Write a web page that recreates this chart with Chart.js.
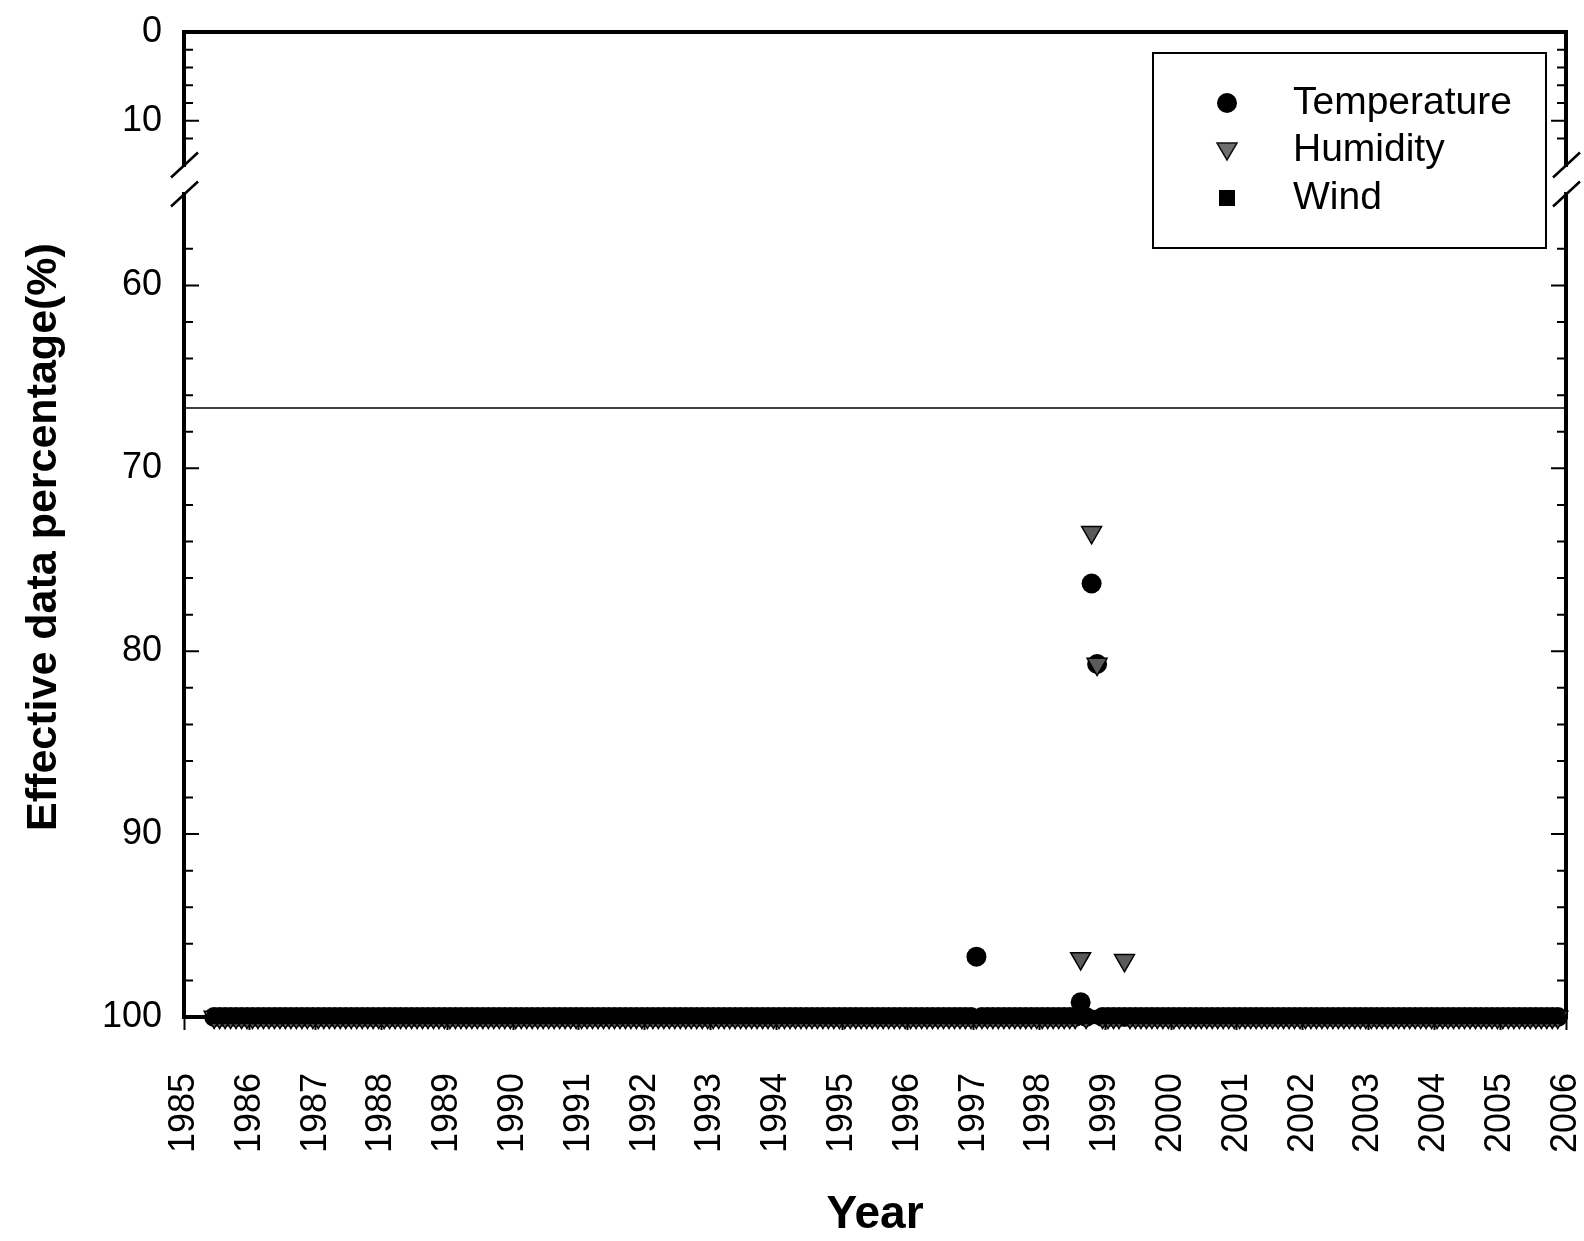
<!DOCTYPE html>
<html>
<head>
<meta charset="utf-8">
<title>Effective data percentage</title>
<script src="https://cdn.jsdelivr.net/npm/chart.js@4.4.1/dist/chart.umd.min.js"></script>
<style>
  html, body { margin: 0; padding: 0; background: #fff; }
  #contenedor { width: 1584px; height: 1241px; }
</style>
</head>
<body>
<div id="contenedor"><canvas id="graficoDatos"></canvas></div>
<script>
// Datos mensuales (una fila por año, 12 meses; null = sin dato)
const years = [1985, 1986, 1987, 1988, 1989, 1990, 1991, 1992, 1993, 1994, 1995,
               1996, 1997, 1998, 1999, 2000, 2001, 2002, 2003, 2004, 2005];

const temperatureRows = [
    [null, null, null, null, null, 100, 100, 100, 100, 100, 100, 100],
    [100, 100, 100, 100, 100, 100, 100, 100, 100, 100, 100, 100],
    [100, 100, 100, 100, 100, 100, 100, 100, 100, 100, 100, 100],
    [100, 100, 100, 100, 100, 100, 100, 100, 100, 100, 100, 100],
    [100, 100, 100, 100, 100, 100, 100, 100, 100, 100, 100, 100],
    [100, 100, 100, 100, 100, 100, 100, 100, 100, 100, 100, 100],
    [100, 100, 100, 100, 100, 100, 100, 100, 100, 100, 100, 100],
    [100, 100, 100, 100, 100, 100, 100, 100, 100, 100, 100, 100],
    [100, 100, 100, 100, 100, 100, 100, 100, 100, 100, 100, 100],
    [100, 100, 100, 100, 100, 100, 100, 100, 100, 100, 100, 100],
    [100, 100, 100, 100, 100, 100, 100, 100, 100, 100, 100, 100],
    [100, 100, 100, 100, 100, 100, 100, 100, 100, 100, 100, 100],
    [96.7, 100, 100, 100, 100, 100, 100, 100, 100, 100, 100, 100],
    [100, 100, 100, 100, 100, 100, 100, 99.2, 100, 76.3, 80.7, 100],
    [100, 100, 100, 100, 100, 100, 100, 100, 100, 100, 100, 100],
    [100, 100, 100, 100, 100, 100, 100, 100, 100, 100, 100, 100],
    [100, 100, 100, 100, 100, 100, 100, 100, 100, 100, 100, 100],
    [100, 100, 100, 100, 100, 100, 100, 100, 100, 100, 100, 100],
    [100, 100, 100, 100, 100, 100, 100, 100, 100, 100, 100, 100],
    [100, 100, 100, 100, 100, 100, 100, 100, 100, 100, 100, 100],
    [100, 100, 100, 100, 100, 100, 100, 100, 100, 100, 100, null]
];

const humidityRows = [
    [null, null, null, null, null, 100, 100, 100, 100, 100, 100, 100],
    [100, 100, 100, 100, 100, 100, 100, 100, 100, 100, 100, 100],
    [100, 100, 100, 100, 100, 100, 100, 100, 100, 100, 100, 100],
    [100, 100, 100, 100, 100, 100, 100, 100, 100, 100, 100, 100],
    [100, 100, 100, 100, 100, 100, 100, 100, 100, 100, 100, 100],
    [100, 100, 100, 100, 100, 100, 100, 100, 100, 100, 100, 100],
    [100, 100, 100, 100, 100, 100, 100, 100, 100, 100, 100, 100],
    [100, 100, 100, 100, 100, 100, 100, 100, 100, 100, 100, 100],
    [100, 100, 100, 100, 100, 100, 100, 100, 100, 100, 100, 100],
    [100, 100, 100, 100, 100, 100, 100, 100, 100, 100, 100, 100],
    [100, 100, 100, 100, 100, 100, 100, 100, 100, 100, 100, 100],
    [100, 100, 100, 100, 100, 100, 100, 100, 100, 100, 100, 100],
    [100, 100, 100, 100, 100, 100, 100, 100, 100, 100, 100, 100],
    [100, 100, 100, 100, 100, 100, 100, 96.8, 100, 73.5, 80.7, 100],
    [100, 100, 100, 96.9, 100, 100, 100, 100, 100, 100, 100, 100],
    [100, 100, 100, 100, 100, 100, 100, 100, 100, 100, 100, 100],
    [100, 100, 100, 100, 100, 100, 100, 100, 100, 100, 100, 100],
    [100, 100, 100, 100, 100, 100, 100, 100, 100, 100, 100, 100],
    [100, 100, 100, 100, 100, 100, 100, 100, 100, 100, 100, 100],
    [100, 100, 100, 100, 100, 100, 100, 100, 100, 100, 100, 100],
    [100, 100, 100, 100, 100, 100, 100, 100, 100, 100, 100, null]
];

const windRows = [
    [null, null, null, null, null, 100, 100, 100, 100, 100, 100, 100],
    [100, 100, 100, 100, 100, 100, 100, 100, 100, 100, 100, 100],
    [100, 100, 100, 100, 100, 100, 100, 100, 100, 100, 100, 100],
    [100, 100, 100, 100, 100, 100, 100, 100, 100, 100, 100, 100],
    [100, 100, 100, 100, 100, 100, 100, 100, 100, 100, 100, 100],
    [100, 100, 100, 100, 100, 100, 100, 100, 100, 100, 100, 100],
    [100, 100, 100, 100, 100, 100, 100, 100, 100, 100, 100, 100],
    [100, 100, 100, 100, 100, 100, 100, 100, 100, 100, 100, 100],
    [100, 100, 100, 100, 100, 100, 100, 100, 100, 100, 100, 100],
    [100, 100, 100, 100, 100, 100, 100, 100, 100, 100, 100, 100],
    [100, 100, 100, 100, 100, 100, 100, 100, 100, 100, 100, 100],
    [100, 100, 100, 100, 100, 100, 100, 100, 100, 100, 100, 100],
    [100, 100, 100, 100, 100, 100, 100, 100, 100, 100, 100, 100],
    [100, 100, 100, 100, 100, 100, 100, 100, 100, 100, 100, 100],
    [100, 100, 100, 100, 100, 100, 100, 100, 100, 100, 100, 100],
    [100, 100, 100, 100, 100, 100, 100, 100, 100, 100, 100, 100],
    [100, 100, 100, 100, 100, 100, 100, 100, 100, 100, 100, 100],
    [100, 100, 100, 100, 100, 100, 100, 100, 100, 100, 100, 100],
    [100, 100, 100, 100, 100, 100, 100, 100, 100, 100, 100, 100],
    [100, 100, 100, 100, 100, 100, 100, 100, 100, 100, 100, 100],
    [100, 100, 100, 100, 100, 100, 100, 100, 100, 100, 100, null]
];

// Línea horizontal de referencia y rangos de los ejes
const thresholdValue = 66.7;
const thresholdYears = [1985, 2006];
const yearRange = [1985, 2006];
const upperRange = [0, 15];
const lowerRange = [55, 100];
const seriesNames = ['Temperature', 'Humidity', 'Wind'];
const yTitle = 'Effective data percentage(%)';
const xTitle = 'Year';

const fuente = '"Liberation Sans", Arial, sans-serif';
Chart.defaults.font.family = fuente;
Chart.defaults.color = '#000';

// Convierte filas año x mes en puntos (x = año decimal, centro del mes)
function puntosSerie(rows) {
    const puntos = [];
    rows.forEach(function(row, i) {
        row.forEach(function(valor, mes) {
            if (valor === null) return;
            puntos.push({ x: years[i] + (mes + 0.5) / 12, y: valor });
        });
    });
    return puntos;
}

function etiquetaY(valor) {
    return valor % 10 === 0 ? String(valor) : '';
}

function ajustarY(scale) {
    scale.width = 184;
    scale.paddingTop = 0;
    scale.paddingBottom = 0;
}

// Marco, marcas de eje hacia dentro y cortes del eje Y
const marcoPlugin = {
    id: 'marco',
    beforeDatasetsDraw(chart) {
        const ctx = chart.ctx;
        const area = chart.chartArea;
        const yTop = chart.scales.yTop;
        const yBot = chart.scales.yBot;
        const finSup = yTop.getPixelForValue(upperRange[1]);
        const iniInf = yBot.getPixelForValue(lowerRange[0]);

        ctx.save();
        ctx.strokeStyle = '#000';
        ctx.lineWidth = 4;
        ctx.lineCap = 'square';
        ctx.beginPath();
        ctx.moveTo(area.left, area.top);
        ctx.lineTo(area.right, area.top);
        ctx.moveTo(area.left, area.bottom);
        ctx.lineTo(area.right, area.bottom);
        [area.left, area.right].forEach(function(x) {
            ctx.moveTo(x, area.top);
            ctx.lineTo(x, finSup);
            ctx.moveTo(x, iniInf);
            ctx.lineTo(x, area.bottom);
        });
        ctx.stroke();

        ctx.lineWidth = 2;
        ctx.lineCap = 'butt';
        ctx.beginPath();
        [yTop, yBot].forEach(function(sc) {
            sc.ticks.forEach(function(t) {
                if (t.value % 2 !== 0) return;
                const y = sc.getPixelForValue(t.value);
                const largo = t.value % 10 === 0 ? 15 : 9;
                ctx.moveTo(area.left, y);
                ctx.lineTo(area.left + largo, y);
                ctx.moveTo(area.right, y);
                ctx.lineTo(area.right - largo, y);
            });
        });
        ctx.stroke();

        ctx.lineWidth = 2.5;
        ctx.beginPath();
        [area.left, area.right].forEach(function(x) {
            [finSup, iniInf].forEach(function(y) {
                ctx.moveTo(x - 13, y + 12.5);
                ctx.lineTo(x + 14, y - 12.5);
            });
        });
        ctx.stroke();
        ctx.restore();
    },
    afterDraw(chart) {
        const ctx = chart.ctx;
        ctx.save();

        // Título del eje Y
        ctx.fillStyle = '#000';
        ctx.font = 'bold 43px ' + fuente;
        ctx.textAlign = 'center';
        ctx.textBaseline = 'middle';
        ctx.translate(44, 537);
        ctx.rotate(-Math.PI / 2);
        ctx.fillText(yTitle, 0, 0);
        ctx.setTransform(1, 0, 0, 1, 0, 0);

        // Leyenda
        ctx.lineWidth = 2;
        ctx.strokeStyle = '#000';
        ctx.fillStyle = '#fff';
        ctx.fillRect(1153, 53, 393, 195);
        ctx.strokeRect(1153, 53, 393, 195);

        const filas = [103, 150, 198];
        const mx = 1227;
        ctx.fillStyle = '#000';
        ctx.beginPath();
        ctx.arc(mx, filas[0], 10, 0, Math.PI * 2);
        ctx.fill();

        ctx.beginPath();
        ctx.moveTo(mx - 10, filas[1] - 7);
        ctx.lineTo(mx + 10, filas[1] - 7);
        ctx.lineTo(mx, filas[1] + 10);
        ctx.closePath();
        ctx.fillStyle = '#6f6f6f';
        ctx.fill();
        ctx.lineWidth = 1.5;
        ctx.strokeStyle = '#111';
        ctx.stroke();

        ctx.fillStyle = '#000';
        ctx.fillRect(mx - 8, filas[2] - 8, 16, 16);

        ctx.font = '39px ' + fuente;
        ctx.textAlign = 'left';
        ctx.textBaseline = 'middle';
        seriesNames.forEach(function(nombre, i) {
            ctx.fillText(nombre, 1293, filas[i]);
        });
        ctx.restore();
    }
};

const ctxGrafico = document.getElementById('graficoDatos').getContext('2d');
window.graficoDatos = new Chart(ctxGrafico, {
    type: 'scatter',
    data: {
        datasets: [{
            label: seriesNames[2],
            data: puntosSerie(windRows),
            yAxisID: 'yBot',
            pointStyle: 'rect',
            pointRadius: 10,
            pointBackgroundColor: '#000',
            pointBorderColor: '#000',
            pointBorderWidth: 0,
            clip: false,
            order: 1
        }, {
            label: seriesNames[1],
            data: puntosSerie(humidityRows),
            yAxisID: 'yBot',
            pointStyle: 'triangle',
            pointRotation: 180,
            pointRadius: 11.5,
            pointBackgroundColor: '#5a5a5a',
            pointBorderColor: '#000',
            pointBorderWidth: 1.5,
            clip: false,
            order: 2
        }, {
            label: seriesNames[0],
            data: puntosSerie(temperatureRows),
            yAxisID: 'yBot',
            pointStyle: 'circle',
            pointRadius: 10,
            pointBackgroundColor: '#000',
            pointBorderColor: '#000',
            pointBorderWidth: 0,
            clip: false,
            order: 3
        }, {
            type: 'line',
            label: 'threshold',
            data: thresholdYears.map(function(a) { return { x: a, y: thresholdValue }; }),
            yAxisID: 'yBot',
            borderColor: '#000',
            borderWidth: 1.5,
            pointRadius: 0,
            fill: false,
            order: 4
        }]
    },
    options: {
        responsive: true,
        maintainAspectRatio: false,
        animation: false,
        events: [],
        layout: { padding: { left: 0, right: 18, top: 32, bottom: 0 } },
        plugins: {
            legend: { display: false },
            tooltip: { enabled: false }
        },
        scales: {
            x: {
                type: 'linear',
                position: 'bottom',
                min: yearRange[0],
                max: yearRange[1],
                border: { display: false },
                grid: {
                    drawOnChartArea: false,
                    drawTicks: true,
                    tickLength: 13,
                    tickWidth: 2,
                    tickColor: '#000'
                },
                ticks: {
                    stepSize: 1,
                    autoSkip: false,
                    minRotation: 90,
                    maxRotation: 90,
                    padding: 43,
                    color: '#000',
                    font: { size: 36 },
                    callback: function(valor) { return String(valor); }
                },
                title: {
                    display: true,
                    text: xTitle,
                    color: '#000',
                    font: { size: 46, weight: 'bold', lineHeight: 1.1 },
                    padding: { top: 0, bottom: 0 }
                },
                afterFit: function(scale) {
                    scale.height = 224;
                    scale.paddingLeft = 0;
                    scale.paddingRight = 0;
                }
            },
            // Los ejes apilados se colocan de abajo hacia arriba
            yBot: {
                type: 'linear',
                position: 'left',
                stack: 'y',
                stackWeight: 823,
                reverse: true,
                min: lowerRange[0],
                max: lowerRange[1],
                border: { display: false },
                grid: { display: false, drawTicks: false },
                ticks: { stepSize: 2, autoSkip: false, padding: 22, color: '#000', font: { size: 36 }, callback: etiquetaY },
                afterFit: ajustarY
            },
            yGap: {
                type: 'linear',
                position: 'left',
                stack: 'y',
                stackWeight: 29,
                min: 0,
                max: 1,
                border: { display: false },
                grid: { display: false, drawTicks: false },
                ticks: { display: false },
                afterFit: ajustarY
            },
            yTop: {
                type: 'linear',
                position: 'left',
                stack: 'y',
                stackWeight: 133,
                reverse: true,
                min: upperRange[0],
                max: upperRange[1],
                border: { display: false },
                grid: { display: false, drawTicks: false },
                ticks: { stepSize: 2, autoSkip: false, padding: 22, color: '#000', font: { size: 36 }, callback: etiquetaY },
                afterFit: ajustarY
            }
        }
    },
    plugins: [marcoPlugin]
});
</script>
</body>
</html>
